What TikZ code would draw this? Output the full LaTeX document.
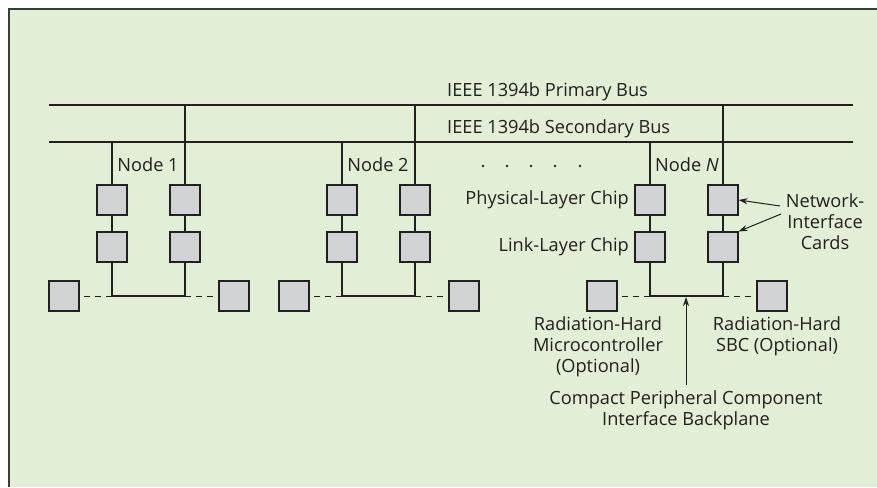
\documentclass[tikz,border=0pt]{standalone}
\usepackage{fontspec}
\setmainfont{Open Sans}
\usetikzlibrary{arrows.meta}
\definecolor{bggreen}{RGB}{226,238,213}
\definecolor{chipgray}{RGB}{209,210,212}
\definecolor{inkc}{RGB}{35,31,32}
\definecolor{framec}{RGB}{60,60,60}
\tikzset{
  chip/.style={draw=inkc, fill=chipgray, rectangle, minimum size=30pt, inner sep=0pt, line width=1.1pt},
  busline/.style={draw=inkc, line width=1.4pt},
  wire/.style={draw=inkc, line width=1.1pt},
  dwire/.style={draw=inkc, line width=1pt, dash pattern=on 6pt off 5pt},
  lbl/.style={inner sep=0pt, text=inkc, font=\fontsize{18.2}{21}\selectfont, align=center},
  callout/.style={draw=inkc, line width=1pt, -{Stealth[length=9pt,width=6pt]}},
}
\begin{document}
\begin{tikzpicture}[x=1pt,y=-1pt]
\useasboundingbox (0,0) rectangle (877,487);
\fill[bggreen] (9,9) rectangle (877,487);
\draw[framec, line width=2pt] (9,487) -- (9,9) -- (877,9);

% buses
\coordinate (p0) at (49,105); \coordinate (p1) at (853,105);
\coordinate (s0) at (49,142); \coordinate (s1) at (853,142);
\draw[busline] (p0) -- (p1);
\draw[busline] (s0) -- (s1);
\node[lbl, anchor=west] (primlbl) at (447,92) {IEEE 1394b Primary Bus};
\node[lbl, anchor=west] (seclbl) at (447,129) {IEEE 1394b Secondary Bus};

% node groups
\foreach \g/\L/\R in {a/112/185, b/342/415, c/650/723}{
  \node[chip] (\g pl) at (\L,200) {};
  \node[chip] (\g pr) at (\R,200) {};
  \node[chip] (\g ll) at (\L,247) {};
  \node[chip] (\g lr) at (\R,247) {};
  \coordinate (\g sl) at (\L,142);
  \coordinate (\g sr) at (\R,105);
  \coordinate (\g bl) at (\L,296);
  \coordinate (\g br) at (\R,296);
  \node[chip] (\g xl) at (\L-48,296) {};
  \node[chip] (\g xr) at (\R+49,296) {};
  \draw[wire] (\g sl) -- (\g pl.north);
  \draw[wire] (\g sr) -- (\g pr.north);
  \draw[wire] (\g pl) -- (\g ll);
  \draw[wire] (\g pr) -- (\g lr);
  \draw[wire] (\g ll.south) -- (\g bl) -- (\g br) -- (\g lr.south);
  \draw[dwire] (\g bl) -- (\g xl.east);
  \draw[dwire] (\g br) -- (\g xr.west);
}
\node[lbl] (n1) at (148,165) {Node 1};
\node[lbl] (n2) at (378,165) {Node 2};
\node[lbl] (nN) at (687,165) {Node \textit{N}};

% dots
\foreach \i/\x in {1/483,2/507,3/531,4/555,5/580}{
  \fill[inkc] (\x,166) circle (1.4pt);
}

\node[lbl, anchor=east] (phy) at (629,200) {Physical-Layer Chip};
\node[lbl, anchor=east] (lnk) at (629,247) {Link-Layer Chip};

\node[lbl] (nic) at (825,222) {Network-\\Interface\\Cards};
\coordinate (nica) at (780,206);
\coordinate (nicb) at (781,214);
\draw[callout] (nica) -- (cpr.east);
\draw[callout] (nicb) -- (clr.north east);

\node[lbl] (rhm) at (598,347) {Radiation-Hard\\Microcontroller\\(Optional)};
\node[lbl] (rhs) at (777,336) {Radiation-Hard\\SBC (Optional)};
\node[lbl] (cpci) at (686,410) {Compact Peripheral Component\\Interface Backplane};
\coordinate (cpcit) at (686,385);
\coordinate (cpcih) at (686,297);
\draw[callout] (cpcit) -- (cpcih);
\end{tikzpicture}
\end{document}
